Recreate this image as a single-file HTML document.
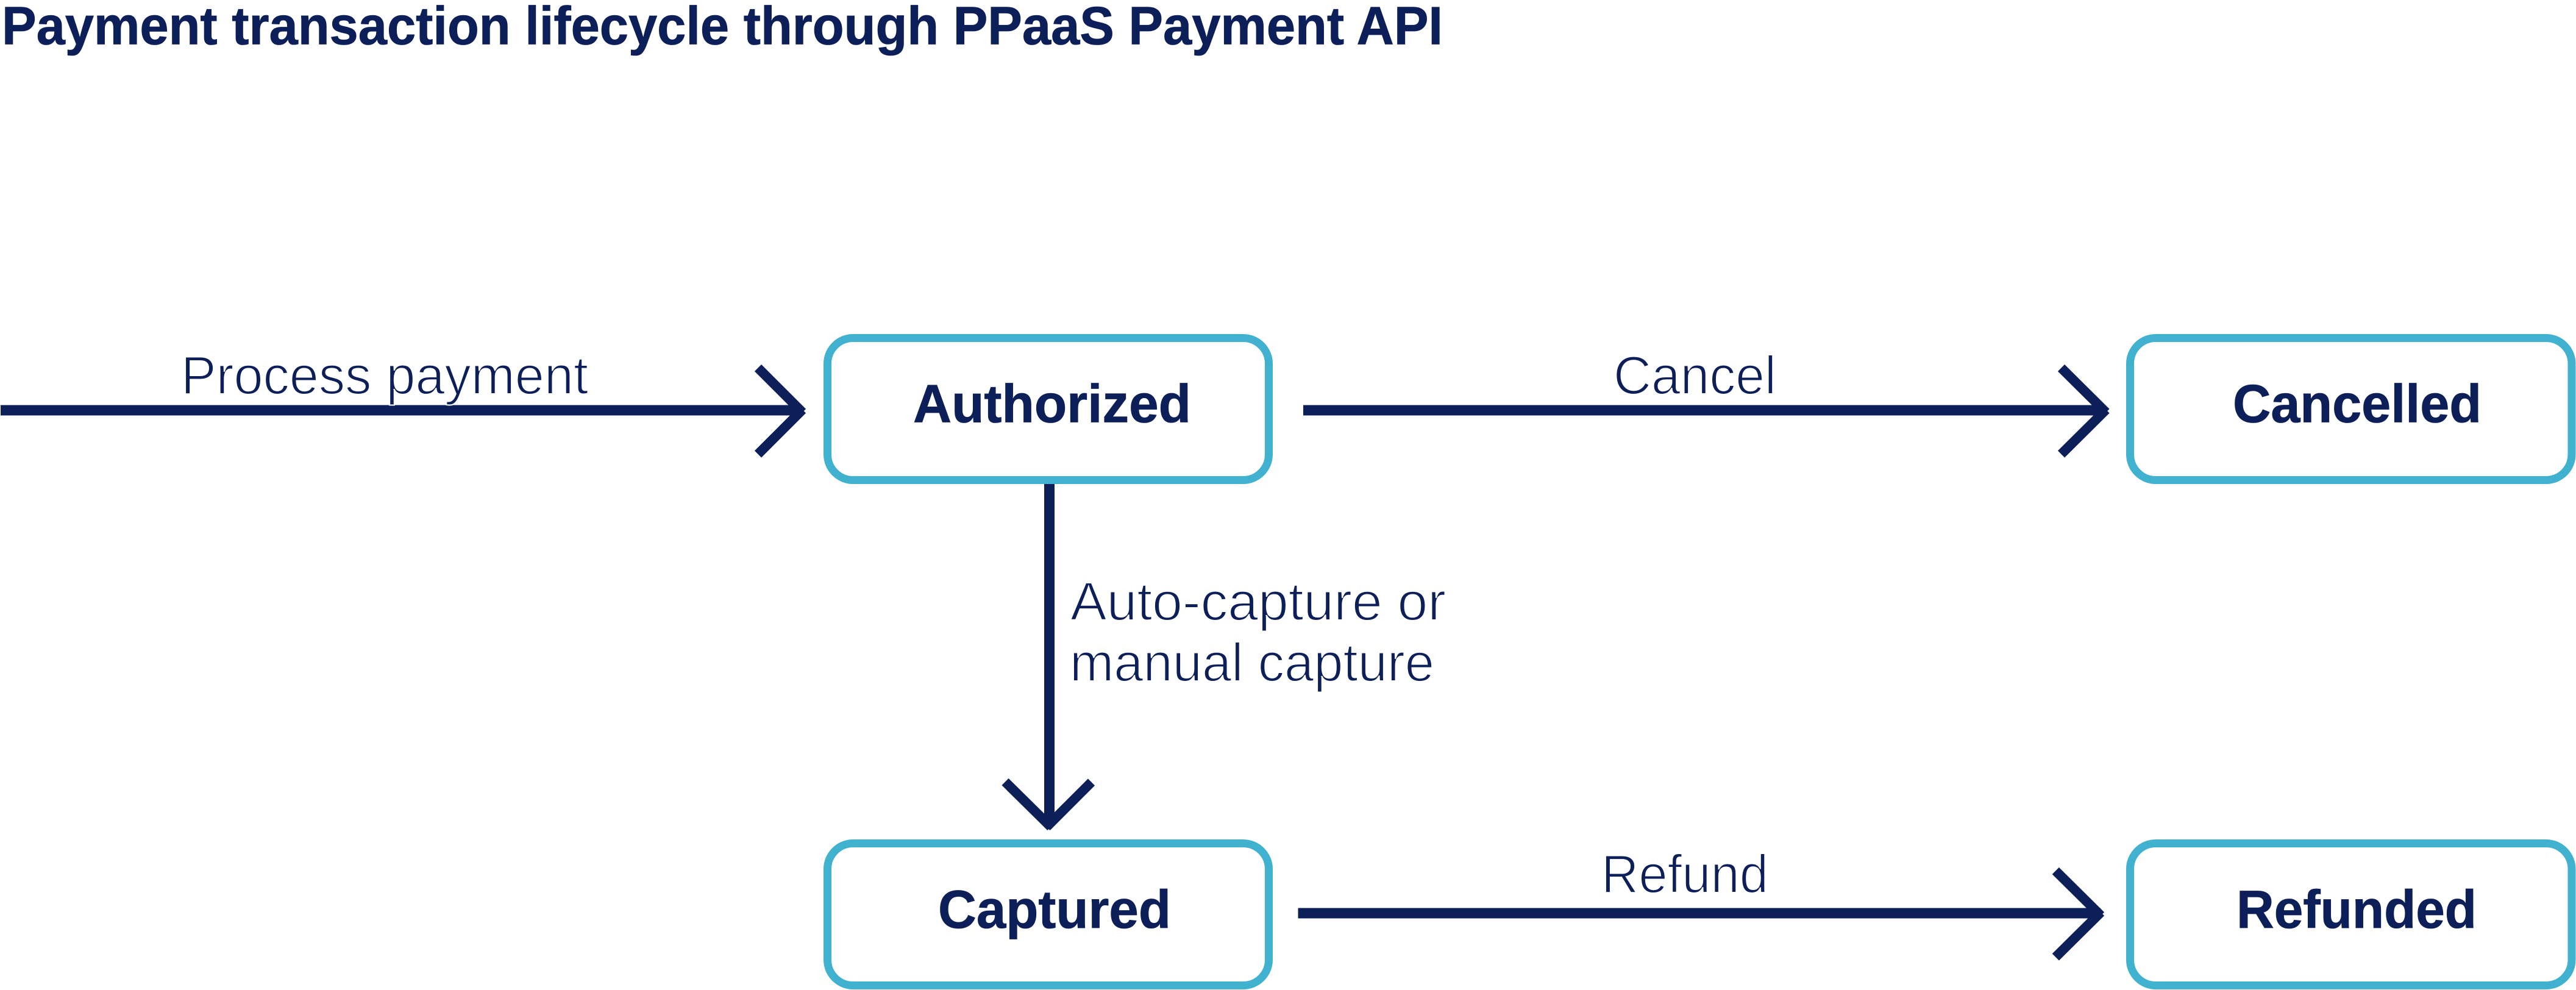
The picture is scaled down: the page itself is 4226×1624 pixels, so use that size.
<!DOCTYPE html>
<html>
<head>
<meta charset="utf-8">
<style>
html,body{margin:0;padding:0;background:#fff;width:4226px;height:1624px;overflow:hidden}
svg{display:block}
text{font-family:"Liberation Sans",sans-serif;fill:#0D1F58}
.b{font-weight:700;font-size:88px;stroke:#0D1F58;stroke-width:0.8px}
.l{font-weight:400;font-size:88px;stroke:#fff;stroke-width:2px}
.box{fill:#fff;stroke:#40B1CF;stroke-width:13}
.ln{stroke:#0D1F58;stroke-width:17;fill:none}
.ah{stroke:#0D1F58;stroke-width:15.8;fill:none}
</style>
</head>
<body>
<svg width="4226" height="1624" viewBox="0 0 4226 1624" xmlns="http://www.w3.org/2000/svg">
<rect width="4226" height="1624" fill="#fff"/>
<text class="b" x="3" y="72.5" textLength="2364" lengthAdjust="spacingAndGlyphs">Payment transaction lifecycle through PPaaS Payment API</text>

<rect class="box" x="1357.5" y="554.5" width="724" height="233" rx="42"/>
<rect class="box" x="3494.5" y="554.5" width="724.5" height="233" rx="42"/>
<rect class="box" x="1357.5" y="1383.5" width="724" height="233" rx="42"/>
<rect class="box" x="3494.5" y="1383.5" width="724.5" height="233" rx="42"/>

<text class="b" x="1498" y="692.5" textLength="456" lengthAdjust="spacingAndGlyphs">Authorized</text>
<text class="b" x="3663" y="692.5" textLength="408" lengthAdjust="spacingAndGlyphs">Cancelled</text>
<text class="b" x="1539" y="1522" textLength="382" lengthAdjust="spacingAndGlyphs">Captured</text>
<text class="b" x="3669" y="1522" textLength="394" lengthAdjust="spacingAndGlyphs">Refunded</text>

<line class="ln" x1="1" y1="673" x2="1315" y2="673"/>
<line class="ah" x1="1243.5" y1="603.5" x2="1316.5" y2="676.5"/>
<line class="ah" x1="1243.5" y1="745" x2="1316.5" y2="672"/>

<line class="ln" x1="2138" y1="673" x2="3454" y2="673"/>
<line class="ah" x1="3381.5" y1="603.5" x2="3455" y2="676.5"/>
<line class="ah" x1="3381.5" y1="745" x2="3455" y2="672"/>

<line class="ln" x1="2129.5" y1="1498" x2="3446" y2="1498"/>
<line class="ah" x1="3372.3" y1="1428.5" x2="3446.5" y2="1502"/>
<line class="ah" x1="3372.3" y1="1570" x2="3446.5" y2="1496.5"/>

<line class="ln" x1="1721.5" y1="794" x2="1721.5" y2="1355"/>
<line class="ah" x1="1649" y1="1282.5" x2="1724" y2="1356.5"/>
<line class="ah" x1="1790.5" y1="1283" x2="1717" y2="1356.5"/>

<text class="l" x="297" y="646" textLength="668" lengthAdjust="spacingAndGlyphs">Process payment</text>
<text class="l" x="2647" y="646" textLength="267" lengthAdjust="spacingAndGlyphs">Cancel</text>
<text class="l" x="2627" y="1464" textLength="274" lengthAdjust="spacingAndGlyphs">Refund</text>
<text class="l" x="1756" y="1017" textLength="616" lengthAdjust="spacingAndGlyphs">Auto-capture or</text>
<text class="l" x="1755" y="1117" textLength="598" lengthAdjust="spacingAndGlyphs">manual capture</text>
</svg>
</body>
</html>
